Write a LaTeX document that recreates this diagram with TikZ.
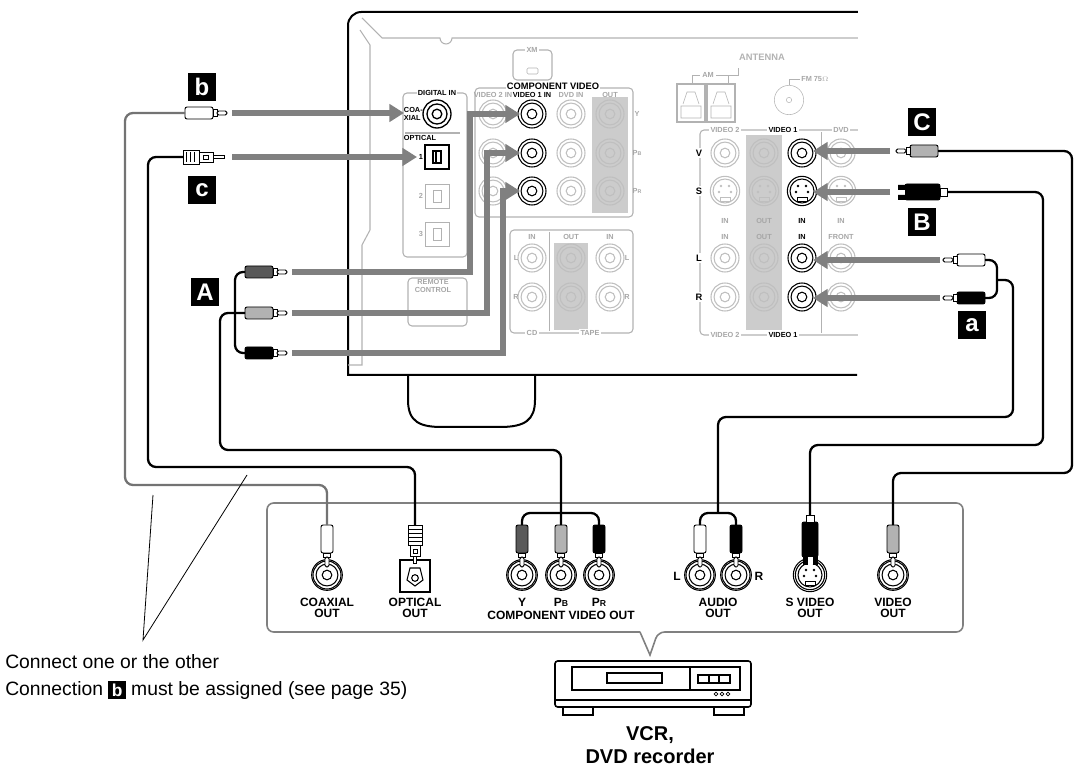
\documentclass[tikz,border=0pt]{standalone}
\usepackage{fontspec}
\setmainfont{Liberation Sans}
\usetikzlibrary{arrows.meta,positioning}
\newcommand{\rcajack}[4]{% name, x, y, colour
  \draw[#4,line width=.8pt] (#2,#3) circle (10.5pt) circle (8.2pt) circle (3.6pt);
  \coordinate (#1) at (#2,#3);}
\newcommand{\sjack}[4]{% name, x, y, colour
  \draw[#4,line width=.8pt] (#2,#3) circle (11pt) circle (9pt);
  \fill[#4] (#2,#3) ++(-4,-5) circle (1pt) ++(8,0) circle (1pt) ++(-10,6) circle (1pt) ++(12,0) circle (1pt);
  \draw[#4,line width=.6pt] (#2,#3) ++(-5,6) rectangle ++(10,4);
  \coordinate (#1) at (#2,#3);}
\newcommand{\rcaplug}[5]{% name, x, y, rotation, fill
  \begin{scope}[shift={(#2,#3)},rotate=#4,line width=.7pt]
    \draw[fill=#5,rounded corners=1.5pt] (-14,-6) rectangle (14,6);
    \draw[fill=white] (14,-3.5) rectangle (18,3.5);
    \draw[fill=white,rounded corners=1.2pt] (18,-2) rectangle (28,2);
    \coordinate (#1) at (-14,0);
  \end{scope}}
\begin{document}
\begin{tikzpicture}[x=0.75pt,y=-0.75pt]
\tikzstyle{lbl} = [font=\bfseries\fontsize{5.5}{6}\selectfont,inner sep=0pt,align=center]
\tikzstyle{faint} = [lbl,text=black!35]
\tikzstyle{outlbl} = [font=\bfseries\fontsize{9}{8.5}\selectfont,inner sep=0pt,align=center]
\tikzstyle{tag} = [fill=black,text=white,inner sep=0pt,minimum size=21pt,font=\bfseries\fontsize{18}{18}\selectfont]
\tikzstyle{feed} = [line width=4.5pt,draw=black!50,-{Triangle[length=11pt,width=13pt]}]
\tikzstyle{cable} = [line width=1.7pt,rounded corners=6pt]
\tikzstyle{box} = [draw=black!30,line width=.8pt,rounded corners=3pt]
\useasboundingbox (0,0) rectangle (1078,773);
% receiver
\draw[line width=1.5pt] (857,375) -- (348,375) -- (348,26) [rounded corners=10pt] -- (348,12) -- (858,12);
\draw[black!30,line width=.8pt] (362,18) -- (382,38) -- (440,38) arc (180:0:6) -- (858,38);
\draw[black!30,line width=.8pt] (360,30) -- (370,45) -- (370,230) -- (362,245) -- (362,365) -- (348,365);
\draw[line width=1.5pt] (408,375) -- (408,400) .. controls (408,422) and (420,427) .. (442,427) -- (500,427) .. controls (525,427) and (535,420) .. (535,400) -- (535,375);
% digital in
\draw[box] (403,93) rectangle (467,257);
\draw[box] (408,278) rectangle (467,326);
\node[lbl,fill=white,inner sep=1pt] (digin) at (437,93) {DIGITAL IN};
\node[lbl,align=left,anchor=east] (coaxlbl) at (423,114) {COA-\\XIAL};
\node[lbl] (optlbl) at (420,138) {OPTICAL};
\draw[black!30,line width=.8pt] (405,133) -- (460,133);
\draw[line width=1pt] (437,114) circle (10.5pt) circle (7.5pt) circle (3.6pt);
\coordinate (coaxin) at (437,114);
\node[draw,line width=1pt,minimum size=18pt,inner sep=0pt] (opt1) at (437,157) {};
\draw[line width=.8pt] (433,151) rectangle (441,163) (436,151) -- (436,163);
\node[lbl] at (421,157) {1};
\foreach \y/\n in {196/2,234/3}{
  \node[draw=black!30,minimum size=18pt,inner sep=0pt] (opt\n) at (437,\y) {};
  \draw[black!30] (433,\y-6) rectangle (441,\y+6);
  \node[faint] at (421,\y) {\n};}
\node[faint] (remote) at (433,286) {REMOTE\\CONTROL};
% xm
\draw[box] (513,50) rectangle (552,80);
\node[faint,fill=white,inner sep=1pt] (xm) at (532,50) {XM};
\draw[black!30,rounded corners=1pt] (527,68) rectangle (538,74);
% component video
\draw[box] (475,88) rectangle (633,217);
\fill[black!20] (592,97) rectangle (628,213);
\node[font=\bfseries\fontsize{7}{7}\selectfont,fill=white,inner sep=1pt] (compin) at (553,86) {COMPONENT VIDEO};
\node[faint] at (493,95) {VIDEO 2 IN};
\node[lbl] at (532,95) {VIDEO 1 IN};
\node[faint] at (571,95) {DVD IN};
\node[faint] at (610,95) {OUT};
\foreach \y/\t in {114/Y,153/P{\fontsize{4}{4}\selectfont B},191/P{\fontsize{4}{4}\selectfont R}}{
  \node[faint] at (637,\y) {\t};}
\foreach \y/\n in {114/1,153/2,191/3}{
  \rcajack{cg\n}{493}{\y}{black!25}
  \rcajack{cv\n}{532}{\y}{black}
  \rcajack{cd\n}{571}{\y}{black!25}
  \rcajack{co\n}{610}{\y}{black!25}}
% cd / tape
\draw[box] (510,230) rectangle (633,333);
\fill[black!20] (554,243) rectangle (588,330);
\draw[black!30] (549,232) -- (549,331);
\foreach \x/\t in {532/IN,571/OUT,610/IN} {\node[faint] at (\x,237) {\t};}
\foreach \y in {258,297}{
  \foreach \x in {532,571,610} {\rcajack{ct\x\y}{\x}{\y}{black!25}}}
\node[faint] at (516,258) {L}; \node[faint] at (516,297) {R};
\node[faint] at (627,258) {L}; \node[faint] at (627,297) {R};
\node[faint,fill=white,inner sep=1pt] at (532,333) {CD};
\node[faint,fill=white,inner sep=1pt] at (590,333) {TAPE};
% antenna
\node[font=\bfseries\fontsize{7}{7}\selectfont,text=black!30] (ant) at (762,57) {ANTENNA};
\foreach \x in {677,707}{
  \draw[black!30,line width=.8pt] (\x,122) rectangle ++(28,-38);
  \draw[black!30] (\x+4,118) rectangle ++(20,-12) (\x+6,104) -- (\x+10,92) -- (\x+18,92) -- (\x+22,104);}
\node[faint] at (708,75) {AM};
\draw[black!30] (692,84) -- (692,75) -- (700,75) (716,75) -- (728,75) -- (728,84) (728,75) -- (738,75) -- (738,68);
\draw[black!30] (789,100) circle (11pt) circle (2pt);
\draw[black!30] (789,85) -- (789,79) -- (800,79);
\node[faint,anchor=west] at (801,79) {FM 75$\Omega$};
% video group
\draw[box] (700,130) rectangle (870,335);
\fill[black!20] (746,135) rectangle (782,330);
\draw[black!30] (821,132) -- (821,333);
\node[faint,fill=white,inner sep=1pt] at (725,130) {VIDEO 2};
\node[lbl,fill=white,inner sep=1pt] at (783,130) {VIDEO 1};
\node[faint,fill=white,inner sep=1pt] at (841,130) {DVD};
\node[faint,fill=white,inner sep=1pt] at (725,335) {VIDEO 2};
\node[lbl,fill=white,inner sep=1pt] at (783,335) {VIDEO 1};
\foreach \y/\t in {153/V,191/S,258/L,297/R} {\node[font=\bfseries\fontsize{7}{7}\selectfont,fill=white,inner sep=1pt] at (699,\y) {\t};}
\foreach \x/\t/\s in {725/IN/faint,764/OUT/faint,802/IN/lbl,841/IN/faint} {\node[\s] at (\x,221) {\t};}
\foreach \x/\t/\s in {725/IN/faint,764/OUT/faint,802/IN/lbl,841/FRONT/faint} {\node[\s] at (\x,237) {\t};}
\foreach \x in {725,764,841}{
  \rcajack{vg\x}{\x}{153}{black!25}
  \sjack{sg\x}{\x}{191}{black!25}
  \rcajack{lg\x}{\x}{258}{black!25}
  \rcajack{rg\x}{\x}{297}{black!25}}
\fill[white] (858,5) rectangle (1078,370);
\rcajack{vin}{802}{153}{black}
\sjack{sin}{802}{191}{black}
\rcajack{lin}{802}{258}{black}
\rcajack{rin}{802}{297}{black}
% plugs
\rcaplug{bplug}{199}{113}{0}{white}
\begin{scope}[line width=.7pt]
  \draw[fill=white] (183,150) rectangle (199,164);
  \foreach \x in {186,190,194} {\draw (\x,152) -- (\x,162);}
  \draw[fill=white] (199,152) rectangle (213,162);
  \draw (203,155) rectangle (208,159);
  \draw[fill=white] (213,155.5) rectangle (224,158.5);
  \coordinate (cplug) at (183,157);
\end{scope}
\rcaplug{yplug}{259}{272}{0}{black!65}
\rcaplug{pbplug}{259}{313}{0}{black!30}
\rcaplug{prplug}{259}{353}{0}{black}
\rcaplug{vplug}{924}{151}{180}{black!30}
\rcaplug{lplug}{971}{260}{180}{white}
\rcaplug{rplug}{971}{298}{180}{black}
\begin{scope}[line width=.7pt]
  \draw[fill=black,rounded corners=1.5pt] (905,184) rectangle (940,200);
  \draw[fill=white] (940,188) rectangle (947,196);
  \fill[white] (898,188) rectangle (905,196);
  \draw[fill=black] (898,185) rectangle (905,189) (898,195) rectangle (905,199);
  \coordinate (splug) at (947,192);
\end{scope}
% tags
\node[tag] (tagb) at (202,87) {b};
\node[tag] (tagc) at (202,190) {c};
\node[tag] (tagA) at (205,292) {A};
\node[tag] (tagC) at (922,122) {C};
\node[tag] (tagB) at (922,222) {B};
\node[tag] (taga) at (972,325) {a};
% feed arrows
\draw[feed] (232,113) -- (404,113);
\draw[feed] (232,157) -- (417,157);
\draw[feed] (292,272) -- (470,272) -- (470,114) -- (520,114);
\draw[feed] (292,313) -- (487,313) -- (487,153) -- (520,153);
\draw[feed] (292,353) -- (503,353) -- (503,191) -- (520,191);
\foreach \y in {151,192} {\draw[feed] (890,\y) -- (813,\y);}
\foreach \y in {260,298} {\draw[feed] (940,\y) -- (813,\y);}
% bottom panel
\draw[draw=black!50,line width=1.2pt,rounded corners=5pt] (640,632) -| (267,503) -| (963,632) -- (658,632) [sharp corners] -- (650,655) -- (640,632);
\rcajack{coaxout}{327}{575}{black}
\draw[line width=.8pt] (327,575) circle (11.5pt);
\draw[line width=.8pt] (400,560) rectangle (430,592);
\draw[line width=.8pt] (410,568) -- (420,568) -- (423,580) -- (415,586) -- (407,580) -- cycle (415,578) circle (2.5pt);
\coordinate (optout) at (415,576);
\foreach \x/\n in {522/y,561/pb,599/pr,700/l,736/r,893/v}{
  \rcajack{\n out}{\x}{575}{black}
  \draw[line width=.8pt] (\x,575) circle (11.5pt);}
\sjack{sout}{810}{575}{black}
\draw[line width=.8pt] (810,575) circle (12.5pt);
\rcaplug{coaxplug}{327}{539}{-90}{white}
\rcaplug{ypl}{522}{539}{-90}{black!65}
\rcaplug{pbpl}{561}{539}{-90}{black!30}
\rcaplug{prpl}{599}{539}{-90}{black}
\rcaplug{lpl}{700}{539}{-90}{white}
\rcaplug{rpl}{736}{539}{-90}{black}
\rcaplug{vpl}{893}{539}{-90}{black!30}
\begin{scope}[line width=.7pt]
  \draw[fill=white] (408,525) rectangle (422,545);
  \foreach \y in {529,533,537,541} {\draw (408,\y) -- (422,\y);}
  \draw[fill=white] (410,545) rectangle (420,556);
  \draw (413,549) rectangle (417,553);
  \draw[fill=white] (413.5,556) rectangle (416.5,563);
  \coordinate (optplug) at (415,525);
  \draw[fill=black,rounded corners=1.5pt] (802,522) rectangle (818,557);
  \draw[fill=white] (806,515) rectangle (814,522);
  \fill[white] (806,557) rectangle (814,564);
  \draw[fill=black] (803,557) rectangle (807,564) (813,557) rectangle (817,564);
  \coordinate (splg) at (810,515);
\end{scope}
% cables
\draw[cable,black!55] (bplug) -- (125,113) -- (125,485) -- (327,485) -- (coaxplug);
\draw[cable] (cplug) -- (148,157) -- (148,467) -- (415,467) -- (optplug);
\draw[cable] (yplug) -- (235,272) -- (235,353) -- (prplug);
\draw[cable] (pbplug) -- (220,313) -- (220,450) -- (561,450) -- (pbpl);
\draw[cable] (ypl) -- (522,513) -- (599,513) -- (prpl);
\draw[cable] (lplug) -- (997,260) -- (997,298) -- (rplug);
\draw[cable] (997,280) -- (1013,280) -- (1013,417) -- (718,417) -- (718,513);
\draw[cable] (lpl) -- (700,513) -- (736,513) -- (rpl);
\draw[cable] (vplug) -- (1072,151) -- (1072,473) -- (893,473) -- (vpl);
\draw[cable] (splug) -- (1043,192) -- (1043,445) -- (810,445) -- (splg);
% output labels
\node[outlbl] (coaxtxt) at (327,608) {COAXIAL\\OUT};
\node[outlbl] (opttxt) at (415,608) {OPTICAL\\OUT};
\node[outlbl] at (522,602) {Y};
\node[outlbl] at (561,602) {P{\fontsize{6.5}{6}\selectfont B}};
\node[outlbl] at (599,602) {P{\fontsize{6.5}{6}\selectfont R}};
\node[outlbl] (comptxt) at (561,615) {COMPONENT VIDEO OUT};
\node[outlbl] at (677,576) {L};
\node[outlbl] at (759,576) {R};
\node[outlbl] (audiotxt) at (718,608) {AUDIO\\OUT};
\node[outlbl] (stxt) at (810,608) {S VIDEO\\OUT};
\node[outlbl] (vtxt) at (893,608) {VIDEO\\OUT};
% recorder
\draw[line width=1.2pt,rounded corners=2pt] (555,661) rectangle (751,707);
\draw[line width=.8pt] (556,700) -- (750,700);
\draw[line width=.8pt] (572,667) rectangle (740,690) (690,667) -- (690,690);
\draw[line width=.8pt] (607,673) rectangle (662,683);
\draw[line width=.8pt] (698,675) rectangle (730,683) (709,675) -- (709,683) (719,675) -- (719,683);
\foreach \x in {716,722,728} {\draw[line width=.5pt] (\x,694) circle (1.4pt);}
\draw[line width=.8pt] (563,707) rectangle (593,715) (714,707) rectangle (744,715);
\node[font=\bfseries\fontsize{15}{17}\selectfont,align=center] (rec) at (650,745) {VCR,\\DVD recorder};
% note
\coordinate (pick) at (143,640);
\draw[line width=.6pt] (153,495) -- (pick) -- (247,475);
\node[anchor=west,font=\fontsize{14.5}{17}\selectfont,inner sep=0pt] (note1) at (5,662) {Connect one or the other};
\node[anchor=west,font=\fontsize{14.5}{17}\selectfont,inner sep=0pt] (note2) at (5,690) {Connection \tikz[baseline=-0.5ex]\node[fill=black,text=white,inner sep=1pt,minimum size=13pt,font=\bfseries\fontsize{13}{13}\selectfont]{b}; must be assigned (see page 35)};
\end{tikzpicture}
\end{document}
